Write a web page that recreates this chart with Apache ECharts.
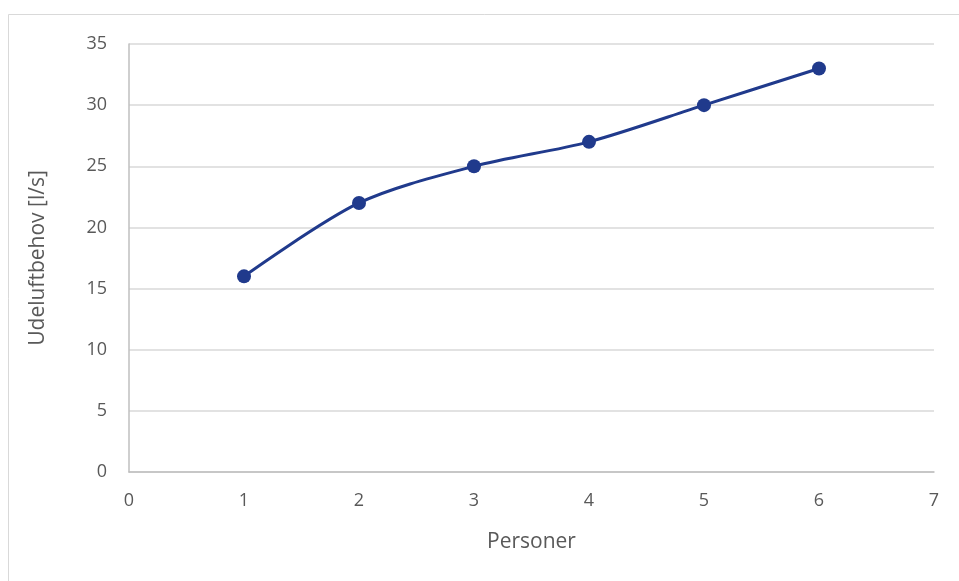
<!DOCTYPE html>
<html><head><meta charset="utf-8">
<script src="https://cdn.jsdelivr.net/npm/echarts@6/dist/echarts.min.js"></script>
<style>html,body{margin:0;padding:0;background:#fff}#c{width:959px;height:581px}</style>
</head><body><div id="c"></div>
<script>
const personer = [1, 2, 3, 4, 5, 6];
const udeluft = [16, 22, 25, 27, 30, 33];
const xAxisName = 'Personer';
const yAxisName = 'Udeluftbehov [l/s]';

const chart = echarts.init(document.getElementById('c'), null, {renderer: 'canvas'});
const font = '"Open Sans", "Liberation Sans", sans-serif';
chart.setOption({
  animation: false,
  backgroundColor: '#fff',
  graphic: [{
    type: 'rect', shape: {x: 8.5, y: 14.5, width: 1000, height: 1000},
    style: {fill: 'none', stroke: '#d9d9d9', lineWidth: 1}, silent: true, z: -1
  }],
  grid: {left: 129, right: 25, top: 44, bottom: 109, containLabel: false},
  xAxis: {
    type: 'value', min: 0, max: 7, interval: 1,
    name: xAxisName, nameLocation: 'middle', nameGap: 60,
    nameTextStyle: {color: '#595959', fontSize: 21, fontFamily: font},
    axisLine: {show: true, lineStyle: {color: '#bfbfbf', width: 1.5}},
    axisTick: {show: false},
    splitLine: {show: false},
    axisLabel: {color: '#595959', fontSize: 18, fontFamily: font, margin: 20}
  },
  yAxis: {
    type: 'value', min: 0, max: 35, interval: 5,
    name: yAxisName, nameLocation: 'middle', nameGap: 80,
    nameTextStyle: {color: '#595959', fontSize: 21, fontFamily: font},
    axisLine: {show: true, lineStyle: {color: '#bfbfbf', width: 1.5}},
    axisTick: {show: false},
    splitLine: {show: true, lineStyle: {color: '#d9d9d9', width: 1.5}},
    axisLabel: {color: '#595959', fontSize: 18, fontFamily: font, margin: 22}
  },
  series: [{
    type: 'line', smooth: 0.3,
    data: personer.map((p, i) => [p, udeluft[i]]),
    symbol: 'circle', symbolSize: 14,
    lineStyle: {color: '#203a8c', width: 3},
    itemStyle: {color: '#203a8c'}
  }]
});
</script></body></html>
